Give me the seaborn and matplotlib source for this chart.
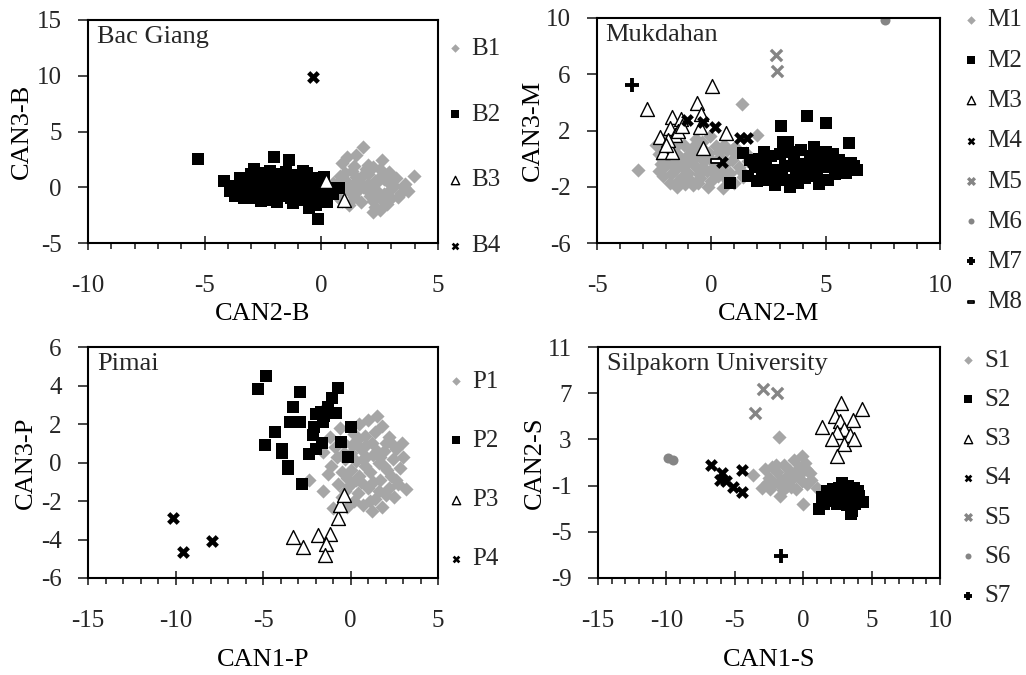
import matplotlib
matplotlib.use("Agg")
import matplotlib.pyplot as plt
from matplotlib.path import Path
from matplotlib.ticker import MultipleLocator
import numpy as np
import pandas as pd
import seaborn as sns

# ---------------------------------------------------------------- data
# Bac Giang: canonical scores (CAN2, CAN3) per group
BG_B1 = [(1.8, 3.6), (1.1, 2.7), (0.9, 2.2), (1.5, 2.9), (2.6, 2.4), (2.2, 1.8), (1.3, 1.5), (0.8, 1.0),
         (2.0, 1.2), (1.6, 0.6), (2.9, 1.4), (3.2, 0.8), (3.6, 0.3), (3.95, 1.0), (2.4, 0.5), (1.9, -0.1),
         (1.0, 0.2), (0.6, -0.4), (2.7, -0.6), (3.0, -0.2), (1.4, -0.9), (2.1, -0.5), (1.7, -1.3), (2.5, -1.0),
         (0.5, 0.4), (1.2, -1.6), (2.3, -1.8), (3.4, -0.5), (2.8, -1.5), (2.2, -2.2), (0.7, -0.9), (1.5, 0.9),
         (2.0, 2.0), (2.6, 1.1), (3.1, 0.1), (1.1, 0.5), (0.4, 0.0), (2.2, 0.3), (1.6, -0.2), (2.9, 0.4),
         (3.55, 0.0), (2.4, -0.3), (1.3, 0.1), (1.9, 1.6), (0.9, -1.2), (2.1, -0.8), (2.7, 0.7), (1.7, 0.9),
         (1.4, -0.6), (2.3, 0.6), (3.0, -1.0), (1.0, 1.3), (2.5, -2.0), (1.8, 0.0), (3.3, -0.9), (2.0, 0.3),
         (1.2, -0.3), (2.2, -1.2), (2.5, 1.6), (1.4, 1.9), (3.7, -0.3), (0.8, 0.6)]
BG_B2 = [(-5.3, 2.5), (-4.15, 0.6), (-3.8, 0.1), (-3.6, -0.5), (-3.5, 0.8), (-3.3, -1.0), (-3.2, 0.3),
         (-3.0, 1.2), (-2.9, 1.6), (-2.8, -0.3), (-2.7, 0.6), (-2.6, -1.2), (-2.5, 1.0), (-2.4, 0.0),
         (-2.3, -0.7), (-2.2, 1.5), (-2.1, 0.4), (-2.05, 2.7), (-2.0, -0.2), (-1.9, -1.3), (-1.8, 0.9),
         (-1.7, 0.2), (-1.6, -0.6), (-1.5, 1.4), (-1.4, 2.4), (-1.4, 0.5), (-1.3, -1.0), (-1.2, 0.1),
         (-1.1, 1.1), (-1.0, -0.4), (-0.9, 0.7), (-0.8, -1.1), (-0.7, 0.3), (-0.6, 1.3), (-0.55, -1.9),
         (-0.5, -0.3), (-0.4, 0.8), (-0.3, -0.8), (-0.25, -1.6), (-0.15, -2.85), (-0.1, 0.2), (0.0, -0.5),
         (0.1, 0.9), (0.25, -1.3), (0.3, -0.1), (0.5, -0.6), (0.75, -0.1), (-3.4, -0.2), (-3.1, -0.6),
         (-2.9, 0.5), (-2.6, 0.2), (-2.5, -0.5), (-2.3, 0.8), (-2.0, 0.5), (-1.9, 1.2), (-1.7, -0.8),
         (-1.5, -0.1), (-1.3, 0.7), (-1.1, -0.7), (-0.9, -0.1), (-0.8, 1.5), (-0.6, 0.5), (-0.4, -0.2),
         (-0.2, 0.5), (-3.7, -0.8), (-3.3, 0.6), (-2.8, -1.0), (-2.2, -1.1), (-1.6, 0.8), (-1.0, 0.4),
         (-2.7, 1.3), (-1.2, -1.4), (-0.7, -0.6), (-3.9, -0.3), (-2.4, 1.2), (-1.8, -0.4)]
BG_B3 = [(0.2, 0.6), (0.95, -1.15)]
BG_B4 = [(-0.35, 9.9)]

# Mukdahan
MK_M1 = [(-3.2, -0.8), (1.35, 3.9), (2.0, 1.7), (0.9, 0.6), (-2.4, 1.0), (-2.3, 0.3), (-2.2, -0.4),
         (-2.1, -1.2), (-2.0, 0.7), (-1.9, -0.1), (-1.8, -1.7), (-1.7, 0.5), (-1.6, -0.8), (-1.5, -2.0),
         (-1.4, 0.2), (-1.3, -1.3), (-1.2, 1.0), (-1.1, -0.3), (-1.0, -1.0), (-0.9, 0.6), (-0.8, -1.9),
         (-0.7, -0.5), (-0.6, 0.3), (-0.5, -1.4), (-0.4, 1.2), (-0.3, -0.2), (-0.2, -0.9), (-0.1, 0.4),
         (0.0, -1.6), (0.1, -0.6), (0.2, 0.9), (0.3, -1.2), (0.4, 0.1), (0.5, -2.1), (0.6, -0.4), (0.7, 0.6),
         (0.8, -1.0), (0.9, -0.1), (1.0, -1.7), (1.1, 0.3), (1.2, -0.6), (1.4, -1.3), (1.6, -0.2),
         (-1.95, 1.3), (-1.55, 0.9), (-1.25, -0.6), (-0.95, -1.5), (-0.65, 1.4), (-0.35, 0.7), (-0.05, 1.6),
         (0.25, -0.3), (0.55, 1.0), (-2.15, 0.0), (-1.75, -1.1), (-1.35, -0.1), (-0.85, -0.2), (-0.45, -0.7),
         (-0.15, -2.0), (0.15, -1.1), (0.45, -0.8), (0.75, -1.6), (1.05, 0.8), (1.3, -0.9), (-1.05, 0.2),
         (-0.55, -1.1), (-1.65, -0.5), (-2.3, -0.9), (-0.25, 0.1), (0.35, 0.5), (-1.15, -1.8), (-0.75, 0.9),
         (1.5, 0.4), (0.65, -1.4), (-1.85, 0.4), (-1.45, -1.6), (-0.6, -1.7), (0.05, -0.2), (-2.05, -0.6)]
MK_M2 = [(4.2, 3.0), (5.0, 2.5), (3.05, 2.3), (6.0, 1.1), (3.15, 1.2), (3.35, 1.15), (1.4, 0.4), (0.8, -1.75),
         (6.35, -0.8), (6.25, -0.55), (2.8, -1.9), (3.45, -2.0), (5.4, -1.1), (1.7, -0.1), (1.9, -0.6),
         (2.1, 0.0), (2.2, -1.0), (2.4, -0.3), (2.5, -1.5), (2.6, 0.2), (2.7, -0.8), (2.9, -1.2), (3.0, 0.3),
         (3.2, -0.5), (3.3, -1.5), (3.5, 0.5), (3.6, -0.2), (3.7, -1.0), (3.9, 0.6), (4.0, -0.4), (4.1, -1.4),
         (4.3, 0.2), (4.4, -0.7), (4.5, 0.8), (4.6, -1.2), (4.8, 0.0), (4.9, -0.6), (5.0, 0.5), (5.2, -0.3),
         (5.3, 0.3), (5.5, -0.8), (5.6, -0.1), (5.8, -0.5), (6.1, -0.3), (1.6, -1.2), (2.0, -1.6), (3.8, -1.7),
         (4.7, -1.8), (5.9, -1.0), (2.3, 0.5), (4.2, -1.0), (3.1, -0.9), (4.6, 0.4), (5.1, -1.5)]
MK_M3 = [(-2.83, 3.53), (0.02, 5.16), (-0.61, 3.98), (-0.47, 3.17), (-1.73, 2.98), (-1.33, 2.8), (-1.81, 2.18),
         (-1.59, 1.68), (-2.24, 1.56), (-1.45, 2.0), (-2.1, 0.49), (-1.73, 0.49), (-0.49, 2.27), (0.64, 1.8),
         (-0.35, 0.78), (-1.9, 1.3), (-2.0, 1.0), (-1.3, 2.3)]
MK_M4 = [(-1.05, 2.75), (-0.38, 2.63), (0.16, 2.27), (1.25, 1.44), (1.55, 1.5), (0.45, -0.22), (1.81, -0.29)]
MK_M5 = [(2.83, 7.37), (2.86, 6.23)]
MK_M6 = [(7.6, 9.85)]
MK_M7 = [(-3.48, 5.23)]
MK_M8 = [(0.19, -0.15)]

# Pimai: canonical scores (CAN1, CAN3)
PM_P1 = [(1.5, 2.4), (3.17, -1.38), (2.95, 1.0), (-2.35, -0.9), (-1.27, -0.6), (-1.55, 0.56), (-0.98, -2.38),
         (-0.2, -2.3), (-1.4, 2.9), (0.5, 2.0), (1.0, 2.2), (1.8, 1.9), (0.2, 1.5), (0.8, 1.4), (1.4, 1.6),
         (2.2, 1.3), (2.6, 0.7), (-0.4, 1.0), (0.1, 0.9), (0.6, 0.7), (1.2, 1.0), (1.9, 0.6), (2.4, 0.2),
         (2.8, -0.3), (-0.8, 0.3), (-0.3, 0.2), (0.3, 0.1), (0.9, 0.3), (1.6, 0.0), (2.1, -0.4), (2.6, -0.9),
         (-1.1, -0.2), (-0.5, -0.5), (0.0, -0.4), (0.5, -0.7), (1.1, -0.5), (1.7, -0.9), (2.2, -1.3),
         (-0.7, -1.1), (-0.1, -1.2), (0.4, -1.6), (1.0, -1.3), (1.4, -1.9), (2.0, -1.7), (-0.5, -1.8),
         (0.7, -2.2), (1.2, -2.5), (0.2, -2.0), (1.8, -2.3), (2.5, -1.8), (3.0, 0.3), (-1.6, -1.5), (-0.9, 0.8),
         (0.4, 1.2), (1.5, 0.6), (2.0, 1.0), (0.8, -0.2), (1.3, 0.4), (-0.2, -0.8), (0.6, -1.0), (1.9, -0.2),
         (2.4, 0.9), (-1.2, 1.3), (-0.6, 1.8), (1.1, -2.0), (0.0, 0.5), (1.6, -1.5), (2.7, -1.1), (-0.3, -1.5),
         (0.9, 0.9), (0.3, -0.9), (1.3, -1.0), (2.3, -0.7), (0.7, 0.2), (1.7, 0.3), (-0.4, 0.5)]
PM_P2 = [(-4.83, 4.51), (-5.27, 3.8), (-0.73, 3.89), (-2.89, 3.68), (-1.04, 3.37), (-3.27, 2.9), (-1.27, 2.9),
         (-1.67, 2.6), (-0.83, 2.59), (-2.0, 2.5), (-1.5, 2.4), (-3.46, 2.09), (-2.9, 2.1), (-1.57, 2.1),
         (0.01, 1.87), (-4.31, 1.6), (-2.06, 1.87), (-2.16, 1.43), (-4.89, 0.91), (-3.93, 0.7), (-3.93, 0.5),
         (-1.61, 1.03), (-0.56, 1.08), (-2.0, 0.7), (-2.4, 0.45), (-0.12, 0.3), (-3.55, -0.17), (-3.55, -0.35),
         (-2.79, -1.13)]
PM_P3 = [(-3.27, -3.85), (-2.73, -4.37), (-1.84, -3.77), (-1.17, -3.73), (-1.4, -4.23), (-1.46, -4.8),
         (-0.73, -2.87), (-0.6, -2.21), (-0.35, -1.69)]
PM_P4 = [(-10.13, -2.9), (-9.56, -4.67), (-7.93, -4.06)]

# Silpakorn University: canonical scores (CAN1, CAN2)
SU_S1 = [(-1.75, 3.18), (-3.65, -0.1), (-3.0, -1.2), (0.0, -2.55), (0.98, -1.25), (-0.1, 1.55), (-0.7, 1.2),
         (0.5, 0.1), (-1.7, -1.9), (-2.8, 0.4), (-2.5, -0.3), (-2.3, 0.6), (-2.1, -0.8), (-1.9, 0.2),
         (-1.6, -0.5), (-1.4, 0.8), (-1.2, -1.0), (-1.0, 0.3), (-0.8, -0.4), (-0.5, -1.3), (-0.3, 0.5),
         (-0.1, -0.6), (0.2, 0.4), (0.3, -0.9), (-2.4, -1.3), (-1.5, -1.4), (-0.6, 0.0), (-2.0, 0.8),
         (-1.1, -0.1), (0.6, -0.5), (-1.8, -0.9), (-0.9, -1.1), (0.1, 1.0), (-2.6, -0.7), (-0.3, -0.1)]
SU_S2 = [(1.18, -3.06), (3.54, -3.17), (3.5, -3.5), (4.39, -2.4), (2.81, -0.81), (1.71, -1.47), (1.9, -2.3),
         (2.2, -1.3), (2.4, -2.0), (2.6, -1.2), (2.8, -2.5), (3.0, -1.5), (3.1, -2.1), (3.3, -1.0), (3.5, -1.8),
         (3.7, -1.2), (3.9, -2.0), (4.0, -1.5), (4.2, -2.4), (1.5, -2.6), (2.0, -1.8), (2.5, -2.6), (3.2, -2.7),
         (3.8, -2.6), (1.4, -2.0), (2.3, -1.6), (3.6, -2.3), (4.1, -1.9)]
SU_S3 = [(2.76, 6.18), (4.27, 5.6), (2.3, 5.0), (3.62, 4.68), (1.4, 4.1), (2.7, 4.6), (3.0, 3.9), (2.5, 3.6),
         (3.4, 3.4), (2.13, 3.0), (2.95, 2.6), (3.74, 3.0), (2.5, 1.56)]
SU_S4 = [(-6.74, 0.78), (-5.96, 0.06), (-5.64, -0.6), (-5.11, -1.1), (-4.5, -1.53), (-4.45, 0.35), (-6.1, -0.5)]
SU_S5 = [(-2.96, 7.33), (-1.94, 6.99), (-3.52, 5.31)]
SU_S6 = [(-9.85, 1.4), (-9.55, 1.2)]
SU_S7 = [(-1.62, -7.07)]

# ---------------------------------------------------------------- styling
sns.set_theme(style="white")
plt.rcParams["font.family"] = ["Liberation Serif", "DejaVu Serif"]
plt.rcParams["axes.unicode_minus"] = False

LIGHT = "#a6a6a6"
MID = "#858585"
DASH = Path([(-1, -0.42), (1, -0.42), (1, 0.42), (-1, 0.42), (-1, -0.42)],
            [Path.MOVETO, Path.LINETO, Path.LINETO, Path.LINETO, Path.CLOSEPOLY])

# marker style for group number 1..8
MARKERS = {
    1: dict(marker="D", color=LIGHT, s=52, linewidth=0),
    2: dict(marker="s", color="black", s=72, linewidth=0),
    3: dict(marker="^", color="white", edgecolor="black", s=100, linewidth=1.0),
    4: dict(marker="X", color="black", s=85, linewidth=0),
    5: dict(marker="x", color=MID, edgecolor=None, s=65, linewidth=2.4),
    6: dict(marker="o", color=MID, s=52, linewidth=0),
    7: dict(marker="+", color="black", edgecolor=None, s=100, linewidth=2.8),
    8: dict(marker=DASH, color="white", edgecolor="black", s=60, linewidth=1.3),
}

W, H = 1026, 675
fig = plt.figure(figsize=(W / 100, H / 100), dpi=100)


def add_panel(box, groups, prefix, title, xlim, ylim, xstep, ystep, xlabel, ylabel,
              leg_anchor, leg_spacing, xlabelpad, ylabelpad):
    left, top, right, bottom = box
    ax = fig.add_axes([left / W, 1 - bottom / H, (right - left) / W, (bottom - top) / H])
    for k, pts in enumerate(groups, start=1):
        df = pd.DataFrame(pts, columns=["x", "y"])
        sns.scatterplot(data=df, x="x", y="y", ax=ax, label=f"{prefix}{k}", zorder=2 + k * 0.01,
                        **MARKERS[k])
    ax.set_xlim(*xlim)
    ax.set_ylim(*ylim)
    ax.set_xticks(np.arange(xlim[0], xlim[1] + 0.01, xstep))
    ax.xaxis.set_minor_locator(MultipleLocator(1))
    ax.set_yticks(np.arange(ylim[0], ylim[1] + 0.01, ystep))
    ax.tick_params(axis="x", which="major", direction="inout", length=10, width=1.2,
                   labelsize=18, pad=18, bottom=True)
    ax.tick_params(axis="x", which="minor", direction="out", length=4, width=1.2, bottom=True)
    ax.tick_params(axis="y", which="major", direction="out", length=7, width=1.2,
                   labelsize=18, pad=12, left=True)
    for sp in ax.spines.values():
        sp.set_visible(True)
        sp.set_color("black")
        sp.set_linewidth(1.5)
        sp.set_zorder(10)
    ax.set_xlabel(xlabel, fontsize=19, labelpad=xlabelpad, color="black")
    ax.set_ylabel(ylabel, fontsize=19, labelpad=ylabelpad, color="black")
    ax.text(0.025, 0.975, title, transform=ax.transAxes, ha="left", va="top", fontsize=19, zorder=5)
    ax.legend(loc="upper left", bbox_to_anchor=leg_anchor, frameon=False, borderaxespad=0, borderpad=0,
              handletextpad=0.25, handlelength=0.8, labelspacing=leg_spacing, markerscale=0.6,
              fontsize=18)
    return ax


add_panel((88, 20, 438, 243), [BG_B1, BG_B2, BG_B3, BG_B4], "B", "Bac Giang",
          (-10, 5), (-5, 15), 5, 5, "CAN2-B", "CAN3-B", (1.02, 0.922), 1.73, 4, 3)
add_panel((597, 18, 940, 243), [MK_M1, MK_M2, MK_M3, MK_M4, MK_M5, MK_M6, MK_M7, MK_M8], "M", "Mukdahan",
          (-5, 10), (-6, 10), 5, 4, "CAN2-M", "CAN3-M", (1.061, 1.04), 0.71, 4, 1)
add_panel((88, 347, 438, 578), [PM_P1, PM_P2, PM_P3, PM_P4], "P", "Pimai",
          (-15, 5), (-6, 6), 5, 2, "CAN1-P", "CAN3-P", (1.023, 0.90), 1.47, 12, 3)
add_panel((598, 347, 940, 578), [SU_S1, SU_S2, SU_S3, SU_S4, SU_S5, SU_S6, SU_S7], "S",
          "Silpakorn University", (-15, 10), (-9, 11), 5, 4, "CAN1-S", "CAN2-S", (1.053, 0.991), 0.67, 12, 1)

fig.savefig("out.png", dpi=100, facecolor="white")
